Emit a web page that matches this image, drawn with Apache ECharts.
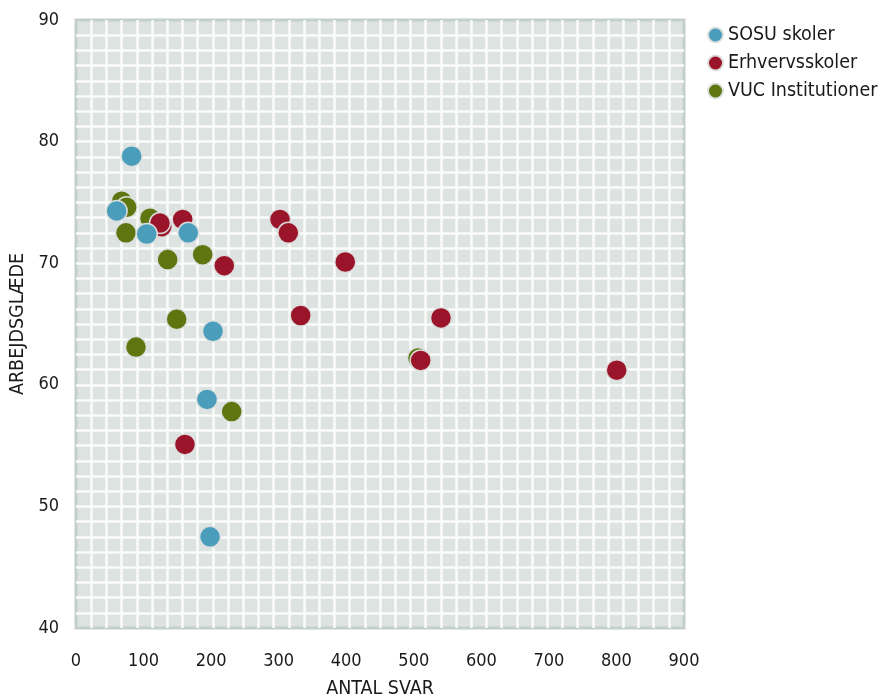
<!DOCTYPE html>
<html>
<head>
<meta charset="utf-8">
<script src="https://cdn.jsdelivr.net/npm/echarts@6/dist/echarts.min.js"></script>
<style>html,body{margin:0;padding:0;background:#fff}#c{width:886px;height:699px}</style>
</head>
<body>
<div id="c"></div>
<script>
var seriesNames = ['SOSU skoler', 'Erhvervsskoler', 'VUC Institutioner'];
var sosuData = [[82.4,78.8],[60.2,74.3],[104.7,72.4],[166.2,72.5],[202.8,64.4],[193.9,58.8],[198.4,47.5]];
var erhvervData = [[126.9,73.0],[124.3,73.3],[157.9,73.6],[219.5,69.8],[302,73.6],[314.3,72.5],[398.6,70.1],[332.6,65.7],[540.3,65.5],[510.2,62.0],[800.4,61.2],[161.3,55.1]];
var vucData = [[67.6,75.1],[75.0,74.6],[109.5,73.7],[74.0,72.5],[135.7,70.3],[187.5,70.7],[149.1,65.4],[88.8,63.1],[230.5,57.8],[506.2,62.2]];
var xTickLabels = [0,100,200,300,400,500,600,700,800,900];
var yTickLabels = [40,50,60,70,80,90];
var xAxisName = 'ANTAL SVAR';
var yAxisName = 'ARBEJDSGLÆDE';

var FONT = "'DejaVu Sans Condensed', 'DejaVu Sans', sans-serif";
var TXT = '#1a1a1a';
var colors = ['#4a9dbb', '#9a1529', '#5e7510'];

var chart = echarts.init(document.getElementById('c'));
function mk(name, data, color, z) {
  return {
    name: name, type: 'scatter', data: data, symbolSize: 21, z: z,
    xAxisIndex: 0, yAxisIndex: 0,
    itemStyle: {color: color, borderColor: 'rgba(222,226,224,0.95)', borderWidth: 1.5, opacity: 1},
    emphasis: {disabled: true}
  };
}
chart.setOption({
  animation: false,
  textStyle: {fontFamily: FONT},
  grid: {left: 76, top: 20, width: 608, height: 608, show: true, containLabel: false,
         outerBoundsMode: 'none',
         backgroundColor: '#dde3e0', borderColor: '#c4d0c7', borderWidth: 3},
  legend: {
    orient: 'vertical', left: 702, top: 20, itemGap: 8,
    data: seriesNames.map(function(n){return {name:n, icon:'circle'};}),
    itemWidth: 15, itemHeight: 15,
    textStyle: {fontFamily: FONT, fontSize: 19.5, color: TXT, lineHeight: 20}
  },
  xAxis: [
    {type: 'value', min: xTickLabels[0], max: xTickLabels[xTickLabels.length-1], interval: 100,
     name: xAxisName, nameLocation: 'middle', nameGap: 51,
     nameTextStyle: {fontFamily: FONT, fontSize: 19.5, color: TXT},
     axisLine: {show: false}, axisTick: {show: false}, splitLine: {show: false},
     axisLabel: {margin: 24, fontFamily: FONT, fontSize: 18, color: TXT}},
    {type: 'value', min: 0, max: 900, interval: 22.5, position: 'bottom',
     axisLine: {show: false}, axisTick: {show: false}, axisLabel: {show: false},
     splitLine: {show: true, showMinLine: false, showMaxLine: false, lineStyle: {color: '#fafbfa', width: 2.5}}}
  ],
  yAxis: [
    {type: 'value', min: yTickLabels[0], max: yTickLabels[yTickLabels.length-1], interval: 10,
     name: yAxisName, nameLocation: 'middle', nameGap: 47, nameRotate: 90,
     nameTextStyle: {fontFamily: FONT, fontSize: 19.5, color: TXT},
     axisLine: {show: false}, axisTick: {show: false}, splitLine: {show: false},
     axisLabel: {margin: 17, fontFamily: FONT, fontSize: 18, color: TXT}},
    {type: 'value', min: 40, max: 90, interval: 1.25, position: 'left',
     axisLine: {show: false}, axisTick: {show: false}, axisLabel: {show: false},
     splitLine: {show: true, showMinLine: false, showMaxLine: false, lineStyle: {color: '#fafbfa', width: 2.5}}}
  ],
  series: [
    mk(seriesNames[0], sosuData, colors[0], 5),
    mk(seriesNames[1], erhvervData, colors[1], 4),
    mk(seriesNames[2], vucData, colors[2], 3)
  ]
});
</script>
</body>
</html>
